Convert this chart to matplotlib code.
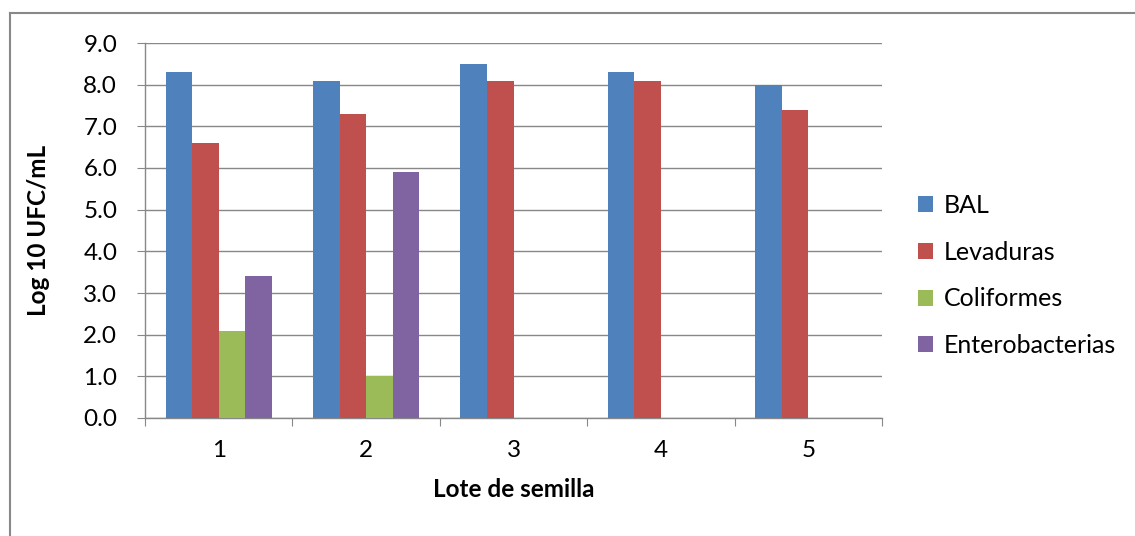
import numpy as np
import matplotlib
matplotlib.use("Agg")
import matplotlib.pyplot as plt
from matplotlib.lines import Line2D

lotes = ["1", "2", "3", "4", "5"]
series = ["BAL", "Levaduras", "Coliformes", "Enterobacterias"]
bal = [8.3, 8.1, 8.5, 8.3, 8.0]
levaduras = [6.6, 7.3, 8.1, 8.1, 7.4]
coliformes = [2.1, 1.0, np.nan, np.nan, np.nan]
enterobacterias = [3.4, 5.9, np.nan, np.nan, np.nan]
colors = ["#4F81BD", "#C0504D", "#9BBB59", "#8064A2"]

plt.rcParams["font.family"] = ["Lato", "DejaVu Sans"]

fig = plt.figure(figsize=(11.35, 5.36), dpi=100)
ax = fig.add_axes([145 / 1135, 1 - 418 / 536, (882 - 145) / 1135, (418 - 43) / 536])

# marco exterior (solo bordes superior e izquierdo)
fig.add_artist(Line2D([10 / 1135, 10 / 1135], [0, 1 - 13 / 536], transform=fig.transFigure,
                      color="#888888", lw=1.5))
fig.add_artist(Line2D([10 / 1135, 1], [1 - 13 / 536, 1 - 13 / 536], transform=fig.transFigure,
                      color="#888888", lw=1.5))

x = np.arange(len(lotes))
w = 0.18
for i, (vals, name, c) in enumerate(zip([bal, levaduras, coliformes, enterobacterias], series, colors)):
    ax.bar(x + (i - 1.5) * w, vals, w, color=c, label=name, zorder=3)

ax.set_xlim(-0.5, len(lotes) - 0.5)
ax.set_ylim(0, 9)
ax.set_yticks(np.arange(0, 9.5, 1.0))
ax.set_yticklabels([f"{v:.1f}" for v in np.arange(0, 9.5, 1.0)], fontsize=17.5)
ax.yaxis.grid(True, color="#888888", lw=1, zorder=0)

# ticks del eje x en los límites de categoría, etiquetas centradas
ax.set_xticks(np.arange(-0.5, len(lotes)), minor=False)
ax.set_xticklabels([])
ax.set_xticks(x, minor=True)
ax.set_xticklabels(lotes, minor=True, fontsize=17.5)
ax.tick_params(axis="x", which="major", length=6, color="#888888", direction="out")
ax.tick_params(axis="x", which="minor", length=0, pad=16)
ax.tick_params(axis="y", length=6, color="#888888", direction="out", pad=14)

for s in ["top", "right"]:
    ax.spines[s].set_visible(False)
for s in ["left", "bottom"]:
    ax.spines[s].set_color("#888888")
    ax.spines[s].set_linewidth(1)

ax.set_xlabel("Lote de semilla", fontsize=17.5, fontweight="bold", labelpad=12)
ax.set_ylabel("Log 10 UFC/mL", fontsize=17.5, fontweight="bold", labelpad=24)

ax.legend(loc="center left", bbox_to_anchor=(1.035, 0.38), frameon=False, fontsize=18,
          handlelength=0.6, handleheight=0.6, handletextpad=0.45, labelspacing=0.95,
          borderaxespad=0)

fig.savefig("out.png", dpi=100)
